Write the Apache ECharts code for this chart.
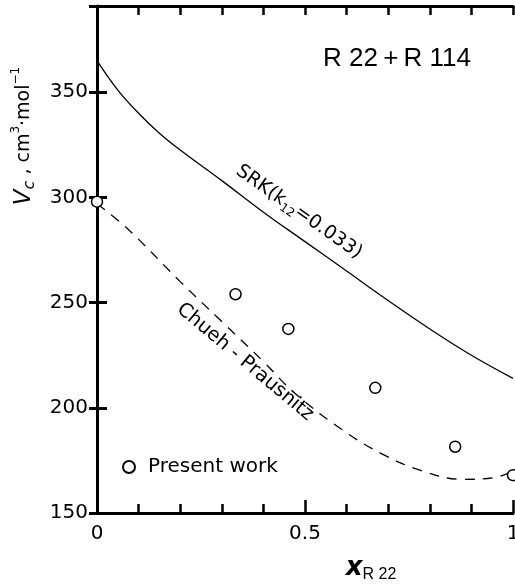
<!DOCTYPE html>
<html>
<head>
<meta charset="utf-8">
<script src="https://cdn.jsdelivr.net/npm/echarts@6/dist/echarts.min.js"></script>
<style>
  html, body { margin: 0; padding: 0; background: #fff; }
  #chart { width: 515px; height: 585px; }
</style>
</head>
<body>
<div id="chart"></div>
<script>
// values
const srkX = [0, 0.05, 0.1, 0.15, 0.2, 0.3, 0.4, 0.5, 0.6, 0.7, 0.8, 0.9, 1]
const srkY = [365, 351, 340, 330.5, 322.5, 308, 293, 279, 265, 251, 237.5, 225, 214]
const cpX = [0, 0.074, 0.2, 0.3, 0.4, 0.475, 0.59, 0.686, 0.782, 0.878, 0.96, 1]
const cpY = [297, 285, 260, 241, 222, 207, 189.5, 178, 170, 166, 167, 170]
const expX = [0, 0.333, 0.46, 0.669, 0.861, 1]
const expY = [298, 254, 237.5, 209.5, 181.5, 168]
const yTicks = [150, 200, 250, 300, 350]
const xTicks = [0, 0.5, 1]

const pairs = (xs, ys) => xs.map((x, i) => [x, ys[i]])
const FONT = 'DejaVu Sans'

const chart = echarts.init(document.getElementById('chart'))
const grid = { left: 97, right: 2, top: 6, bottom: 72, outerBoundsMode: 'none', containLabel: false }

chart.setOption({
  animation: false,
  grid: [grid, Object.assign({}, grid)],
  legend: {
    data: ['Present work'], left: 117, top: 452, itemWidth: 12, itemHeight: 12,
    textStyle: { fontFamily: FONT, fontSize: 20, color: '#000', padding: [0, 0, 0, 8] }
  },
  xAxis: [
    { type: 'value', position: 'bottom', min: 0, max: 1, interval: 0.1,
      axisLine: { lineStyle: { color: '#000', width: 3 } },
      axisTick: { inside: true, length: 9, lineStyle: { color: '#000', width: 2.5 } },
      axisLabel: { margin: 11, fontFamily: FONT, fontSize: 20, color: '#000',
        formatter: v => xTicks.some(t => Math.abs(t - v) < 1e-6) ? String(+v.toFixed(1)) : '' },
      splitLine: { show: false } },
    { type: 'value', position: 'top', min: 0, max: 1, interval: 0.1,
      axisLine: { lineStyle: { color: '#000', width: 3 } },
      axisTick: { inside: true, length: 9, lineStyle: { color: '#000', width: 2.5 } },
      axisLabel: { show: false }, splitLine: { show: false } },
    { type: 'value', gridIndex: 1, position: 'bottom', min: 0, max: 1, interval: 0.5,
      axisLine: { show: false },
      axisTick: { inside: true, length: 13, lineStyle: { color: '#000', width: 2.5 } },
      axisLabel: { show: false }, splitLine: { show: false } }
  ],
  yAxis: [
    { type: 'value', position: 'left', min: 150, max: 391, interval: 50,
      axisLine: { lineStyle: { color: '#000', width: 3 } },
      axisTick: { inside: true, length: 10, lineStyle: { color: '#000', width: 3 } },
      axisLabel: { margin: 9, fontFamily: FONT, fontSize: 20, color: '#000', showMaxLabel: false,
        formatter: v => yTicks.includes(v) ? String(v) : '' },
      splitLine: { show: false } },
    { type: 'value', position: 'right', min: 150, max: 391, interval: 50,
      axisLine: { lineStyle: { color: '#000', width: 2 } },
      axisTick: { inside: true, length: 8, lineStyle: { color: '#000', width: 3 } },
      axisLabel: { show: false }, splitLine: { show: false } },
    { type: 'value', gridIndex: 1, min: 150, max: 391, show: false }
  ],
  series: [
    { name: 'SRK', type: 'line', data: pairs(srkX, srkY), smooth: 0.4, showSymbol: false,
      lineStyle: { color: '#000', width: 1.3 } },
    { name: 'Chueh-Prausnitz', type: 'line', data: pairs(cpX, cpY), smooth: 0.4, showSymbol: false,
      lineStyle: { color: '#000', width: 1.3, type: [10, 8] } },
    { name: 'Present work', type: 'scatter', data: pairs(expX, expY), symbol: 'circle', symbolSize: 11,
      z: 5, itemStyle: { color: '#fff', borderColor: '#000', borderWidth: 1.5, opacity: 1 } }
  ],
  graphic: [
    { type: 'text', x: 397, y: 59, z: 10,
      style: { text: 'R 22\u2009+\u2009R 114', fontFamily: "'Liberation Sans', sans-serif",
        fontSize: 26, fill: '#000', align: 'center', verticalAlign: 'middle' } },
    { type: 'text', x: 299, y: 212, rotation: -35 * Math.PI / 180, z: 10,
      style: { text: 'SRK(k{s|12}=0.033)', fontFamily: FONT, fontSize: 19, fill: '#000',
        align: 'center', verticalAlign: 'middle', lineHeight: 24,
        rich: { s: { fontFamily: FONT, fontSize: 12, verticalAlign: 'bottom', lineHeight: 24 } } } },
    { type: 'text', x: 245, y: 362, rotation: -40 * Math.PI / 180, z: 10,
      style: { text: 'Chueh - Prausnitz', fontFamily: FONT, fontSize: 19.5, fill: '#000',
        align: 'center', verticalAlign: 'middle' } },
    { type: 'text', x: 24, y: 136, rotation: Math.PI / 2, z: 10,
      style: { text: '{v|V}{c|c} , cm{p|3}·mol{p|−1}', fontFamily: FONT, fontSize: 19, fill: '#000',
        align: 'center', verticalAlign: 'middle', lineHeight: 28,
        rich: {
          v: { fontFamily: FONT, fontSize: 23, fontStyle: 'italic', lineHeight: 28 },
          c: { fontFamily: FONT, fontSize: 16, fontStyle: 'italic', verticalAlign: 'bottom', lineHeight: 28 },
          p: { fontFamily: FONT, fontSize: 12, verticalAlign: 'top', lineHeight: 28 }
        } } },
    { type: 'text', x: 371, y: 568, z: 10,
      style: { text: '{x|x}{s|R 22}', fontFamily: FONT, fill: '#000', align: 'center', verticalAlign: 'middle',
        lineHeight: 30,
        rich: {
          x: { fontFamily: FONT, fontSize: 26, fontStyle: 'italic', fontWeight: 'bold', lineHeight: 30 },
          s: { fontFamily: "'Liberation Sans', sans-serif", fontSize: 16, verticalAlign: 'bottom', lineHeight: 26 }
        } } }
  ]
})
</script>
</body>
</html>
